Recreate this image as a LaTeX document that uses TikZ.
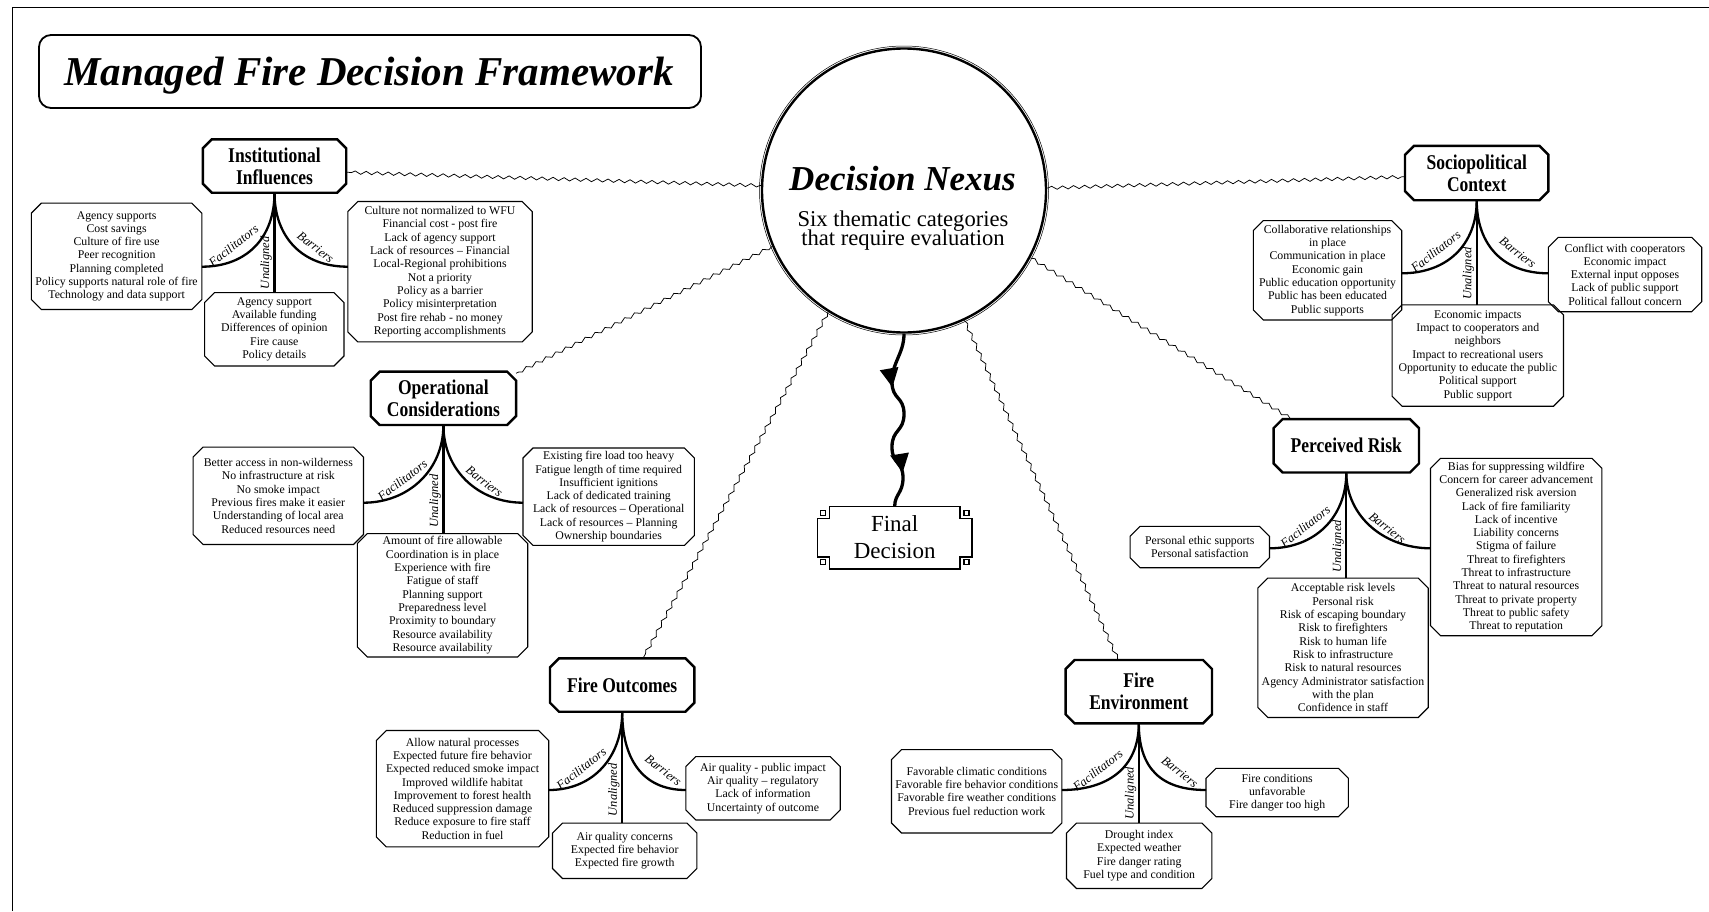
\documentclass[tikz,border=0pt]{standalone}
\usepackage{fontspec}
\setmainfont{Liberation Serif}
\newfontfamily\catfamily[FakeStretch=0.835]{Liberation Serif}
\usetikzlibrary{calc,decorations.pathmorphing,decorations.markings,arrows.meta}

\tikzset{
  cat/.style={align=center, inner sep=0pt, font=\catfamily\bfseries\fontsize{21}{22}\selectfont},
  catline/.style={line width=2.4pt, line join=miter},
  txt/.style={align=center, inner sep=0pt, font=\fontsize{11.8}{13.3}\selectfont},
  txtline/.style={line width=1.1pt},
  stem/.style={line width=2.3pt},
  lab/.style={font=\itshape\fontsize{12.5}{13}\selectfont, inner sep=0.5pt},
  wavy/.style={decorate, decoration={snake, amplitude=1.6pt, segment length=11pt, pre length=1pt, post length=1pt}, line width=0.75pt},
  bigtip/.tip={Triangle[length=19pt,width=18pt]},
}

\newcommand\chamf[3]{%
  \draw[#3] ($(#1.north west)+(#2,0)$) -- ($(#1.north east)+(-#2,0)$) -- ($(#1.north east)+(0,#2)$) -- ($(#1.south east)+(0,-#2)$) -- ($(#1.south east)+(-#2,0)$) -- ($(#1.south west)+(#2,0)$) -- ($(#1.south west)+(0,-#2)$) -- ($(#1.north west)+(0,#2)$) -- cycle;}
\newcommand\catnode[5]{\node[cat, minimum width=#3, minimum height=#4] (#1) at (#2) {#5}; \chamf{#1}{9}{catline}}
\newcommand\txtnode[5]{\node[txt, minimum width=#3, minimum height=#4] (#1) at (#2) {#5}; \chamf{#1}{10}{txtline}}
% #1 category, #2 facilitators box, #3 unaligned box, #4 barriers box, #5 y of curve ends, #6 label drop
\newcommand\branches[6]{%
  \draw[stem] (#1.south) -- (#1.south |- #3.north) node[lab, pos=0.7, rotate=90, anchor=south, inner sep=1.5pt] (#1-una-lab) {Unaligned};
  \draw[stem] (#1.south) .. controls +(0,45) and +(45,0) .. (#2.east |- 0,#5);
  \draw[stem] (#1.south) .. controls +(0,45) and +(-45,0) .. (#4.west |- 0,#5);
  \node[lab, rotate=38] (#1-fac-lab) at ($(#1.south)+(-41,#6)$) {Facilitators};
  \node[lab, rotate=-38] (#1-bar-lab) at ($(#1.south)+(41,#6+1.5)$) {Barriers};
}

\begin{document}
\begin{tikzpicture}[x=1pt,y=-1pt]
\useasboundingbox (0,0) rectangle (1709,911);
\draw[line width=1.4pt] (12.5,911) -- (12.5,7.3) -- (1709,7.3);

% title
\node[draw, rounded corners=12pt, line width=1.8pt, minimum width=662pt, minimum height=73pt] (titlebox) at (370,71.5) {};
\node[anchor=base, font=\bfseries\itshape\fontsize{41}{45}\selectfont, inner sep=0pt] (titletext) at (369,85) {Managed Fire Decision Framework};

% nexus
\node[circle, draw, line width=2.4pt, minimum size=284pt, inner sep=0pt] (nexus) at (904,190.5) {};
\draw[line width=0.5pt] (nexus.center) circle[radius=144.5];
\node[anchor=base, font=\bfseries\itshape\fontsize{35}{40}\selectfont, inner sep=0pt] (nexustitle) at (902.5,190) {Decision Nexus};
\node[anchor=base, font=\fontsize{22.6}{20}\selectfont, inner sep=0pt] (nexussub1) at (903,226.7) {Six thematic categories};
\node[anchor=base, font=\fontsize{22.6}{20}\selectfont, inner sep=0pt] (nexussub2) at (903,245.7) {that require evaluation};

% final decision
\node[font=\fontsize{23}{27}\selectfont, align=center, minimum width=154pt, minimum height=62pt, inner sep=0pt] (final) at (894.7,537.5) {Final\\Decision};
\draw[line width=1.6pt] ($(final.north west)+(12,0)$) -- ($(final.north east)+(-12,0)$) -- ++(0,12) -- ++(12,0)
  -- ($(final.south east)+(0,-12)$) -- ++(-12,0) -- ++(0,12) -- ($(final.south west)+(12,0)$) -- ++(0,-12) -- ++(-12,0)
  -- ($(final.north west)+(0,12)$) -- ++(12,0) -- cycle;
\foreach \a/\dx/\dy in {north west/1/1, north east/-1/1, south east/-1/-1, south west/1/-1}{
  \draw[line width=1.2pt] ($(final.\a)+(3*\dx,4*\dy)$) rectangle ($(final.\a)+(8*\dx,9*\dy)$);
}
\draw[line width=3.3pt, postaction={decorate, decoration={markings, mark=at position 0.30 with {\arrow{bigtip}}, mark=at position 0.81 with {\arrow{bigtip}}}}]
 (nexus.south) .. controls +(0,20) and +(0,-20) .. (892,382)
 .. controls +(0,18) and +(0,-18) .. (904,414)
 .. controls +(0,18) and +(0,-18) .. (892,447)
 .. controls +(0,18) and +(0,-18) .. (903,478)
 .. controls +(0,15) and +(0,-12) .. (final.north);

% Institutional Influences
\catnode{inst}{274.5,166}{143pt}{53pt}{Institutional\\Influences}
\txtnode{ifac}{116.6,256.3}{170pt}{106pt}{Agency supports\\Cost savings\\Culture of fire use\\Peer recognition\\Planning completed\\Policy supports natural role of fire\\Technology and data support}
\txtnode{iuna}{274.3,329.3}{139pt}{73pt}{Agency support\\Available funding\\Differences of opinion\\Fire cause\\Policy details}
\txtnode{ibar}{440,271.7}{184pt}{140pt}{Culture not normalized to WFU\\Financial cost - post fire\\Lack of agency support\\Lack of resources -- Financial\\Local-Regional prohibitions\\Not a priority\\Policy as a barrier\\Policy misinterpretation\\Post fire rehab - no money\\Reporting accomplishments}
\branches{inst}{ifac}{iuna}{ibar}{266.7}{53}

% Sociopolitical Context
\catnode{soc}{1476.7,173}{143pt}{54pt}{Sociopolitical\\Context}
\txtnode{sfac}{1327.5,270.3}{148pt}{99pt}{Collaborative relationships\\in place\\Communication in place\\Economic gain\\Public education opportunity\\Public has been educated\\Public supports}
\txtnode{suna}{1477.8,355.5}{171pt}{101pt}{Economic impacts\\Impact to cooperators and\\neighbors\\Impact to recreational users\\Opportunity to educate the public\\Political support\\Public support}
\txtnode{sbar}{1625,274.5}{153pt}{74pt}{Conflict with cooperators\\Economic impact\\External input opposes\\Lack of public support\\Political fallout concern}
\branches{soc}{sfac}{suna}{sbar}{273.3}{51}

% Operational Considerations
\catnode{op}{443.4,398.3}{145pt}{53pt}{Operational\\Considerations}
\txtnode{ofac}{278.3,495.8}{170pt}{97pt}{Better access in non-wilderness\\No infrastructure at risk\\No smoke impact\\Previous fires make it easier\\Understanding of local area\\Reduced resources need}
\txtnode{ouna}{442.5,595.3}{170pt}{123pt}{Amount of fire allowable\\Coordination is in place\\Experience with fire\\Fatigue of staff\\Planning support\\Preparedness level\\Proximity to boundary\\Resource availability\\Resource availability}
\txtnode{obar}{608.7,496.7}{171pt}{97pt}{Existing fire load too heavy\\Fatigue length of time required\\Insufficient ignitions\\Lack of dedicated training\\Lack of resources -- Operational\\Lack of resources -- Planning\\Ownership boundaries}
\branches{op}{ofac}{ouna}{obar}{502.7}{55}

% Perceived Risk
\catnode{pr}{1346.3,445.8}{145pt}{53pt}{Perceived Risk}
\txtnode{pfac}{1199.8,547}{139pt}{41pt}{Personal ethic supports\\Personal satisfaction}
\txtnode{puna}{1343,647.8}{170pt}{139pt}{Acceptable risk levels\\Personal risk\\Risk of escaping boundary\\Risk to firefighters\\Risk to human life\\Risk to infrastructure\\Risk to natural resources\\Agency Administrator satisfaction\\with the plan\\Confidence in staff}
\txtnode{pbar}{1516.2,547}{171pt}{177pt}{Bias for suppressing wildfire\\Concern for career advancement\\Generalized risk aversion\\Lack of fire familiarity\\Lack of incentive\\Liability concerns\\Stigma of failure\\Threat to firefighters\\Threat to infrastructure\\Threat to natural resources\\Threat to private property\\Threat to public safety\\Threat to reputation}
\branches{pr}{pfac}{puna}{pbar}{548.3}{54}

% Fire Outcomes
\catnode{fo}{622.2,685}{144pt}{53pt}{Fire Outcomes}
\txtnode{ffac}{462.5,788.7}{172pt}{116pt}{Allow natural processes\\Expected future fire behavior\\Expected reduced smoke impact\\Improved wildlife habitat\\Improvement to forest health\\Reduced suppression damage\\Reduce exposure to fire staff\\Reduction in fuel}
\txtnode{funa}{624.7,850.8}{144pt}{55pt}{Air quality concerns\\Expected fire behavior\\Expected fire growth}
\txtnode{fbar}{763,788.3}{154pt}{63pt}{Air quality - public impact\\Air quality -- regulatory\\Lack of information\\Uncertainty of outcome}
\branches{fo}{ffac}{funa}{fbar}{790}{57}

% Fire Environment
\catnode{fe}{1138.8,691.7}{146pt}{63pt}{Fire\\Environment}
\txtnode{efac}{976.7,791.3}{170pt}{83pt}{Favorable climatic conditions\\Favorable fire behavior conditions\\Favorable fire weather conditions\\Previous fuel reduction work}
\txtnode{euna}{1139.2,855.8}{145pt}{65pt}{Drought index\\Expected weather\\Fire danger rating\\Fuel type and condition}
\txtnode{ebar}{1277.2,792.5}{142pt}{48pt}{Fire conditions\\unfavorable\\Fire danger too high}
\branches{fe}{efac}{euna}{ebar}{790}{47}

% wavy connectors
\draw[wavy] (nexus.178) -- (inst.355);
\draw[wavy] (nexus.203) -- (op.19);
\draw[wavy] (nexus.238) -- (fo.52);
\draw[wavy] (nexus.295) -- (fe.123);
\draw[wavy] (nexus.332) -- (pr.154);
\draw[wavy] (nexus.1) -- (soc.183);
\end{tikzpicture}
\end{document}
